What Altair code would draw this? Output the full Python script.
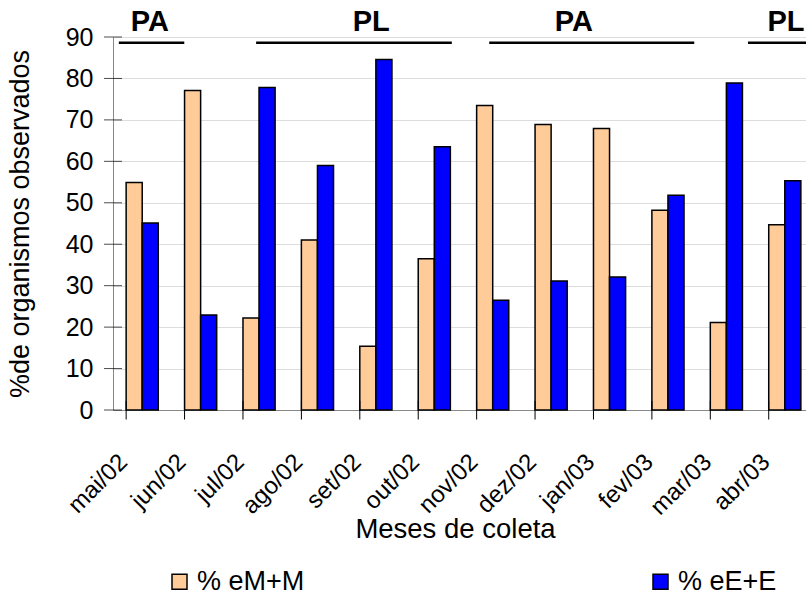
import altair as alt
import pandas as pd

months = ["mai/02", "jun/02", "jul/02", "ago/02", "set/02", "out/02",
          "nov/02", "dez/02", "jan/03", "fev/03", "mar/03", "abr/03"]
em_m = [54.9, 77.1, 22.2, 41.0, 15.4, 36.5, 73.5, 68.9, 67.9, 48.2, 21.1, 44.7]
ee_e = [45.1, 22.9, 77.8, 59.0, 84.6, 63.5, 26.5, 31.1, 32.1, 51.8, 78.9, 55.3]
series = ["% eM+M", "% eE+E"]
colors = ["#FFCC99", "#0000FF"]

periods = ["PA", "PL", "PA", "PL"]
period_start = [0.10, 2.45, 6.44, 10.87]
period_end = [1.22, 5.80, 9.95, 12.0]
period_center = [0.63, 4.42, 7.89, 11.52]

y_ticks = [0, 10, 20, 30, 40, 50, 60, 70, 80, 90]

FONT = "Liberation Sans"
W = 693
W_RANGE = 701
H = 373

df = pd.DataFrame({
    "month": months * 2,
    "series": [series[0]] * len(months) + [series[1]] * len(months),
    "value": em_m + ee_e,
})
df_months = pd.DataFrame({"month": months})
df_yt = pd.DataFrame({"value": y_ticks})
df_per = pd.DataFrame({"label": periods, "x1": period_start, "x2": period_end, "xc": period_center})

xscale = alt.Scale(domain=months, range=[0, W_RANGE], paddingInner=0.45, paddingOuter=0.225)
yscale = alt.Scale(domain=[0, 90], nice=False, zero=True)
qx = alt.Scale(domain=[0, 12], range=[0, W_RANGE])

bars = alt.Chart(df).mark_bar(stroke="black", strokeWidth=1.5).encode(
    x=alt.X("month:N", sort=months, scale=xscale, title="Meses de coleta",
            axis=alt.Axis(ticks=False, labelAngle=-45,
                          labelAlign="right", labelBaseline="middle",
                          labelPadding=48, labelOffset=-18.5,
                          labelFontSize=24, titleFontSize=27.5, titleFontWeight="normal",
                          titleX=342, titleY=127, titleAlign="center",
                          titleBaseline="alphabetic")),
    xOffset=alt.XOffset("series:N", sort=series, scale=alt.Scale(domain=series, paddingInner=0, paddingOuter=0)),
    y=alt.Y("value:Q", scale=yscale, title="%de organismos observados",
            axis=alt.Axis(values=y_ticks, ticks=False, labelPadding=20, labelFontSize=25,
                          titleFontSize=27, titleFontWeight="normal", titleX=-79, titleY=186.5,
                          titleAlign="center", titleBaseline="bottom")),
    color=alt.Color("series:N", sort=series,
                    scale=alt.Scale(domain=series, range=colors),
                    legend=alt.Legend(title=None, orient="none", legendX=53, legendY=531,
                                      padding=0,
                                      direction="horizontal", symbolType="square",
                                      symbolSize=225, symbolStrokeColor="black",
                                      symbolStrokeWidth=1.5, labelFontSize=27,
                                      labelFont=FONT, labelOffset=4,
                                      columnPadding=342)),
)

xticks = alt.Chart(df_months).mark_rule(color="black", strokeWidth=1).encode(
    x=alt.X("month:N", sort=months, scale=xscale, bandPosition=0, title="Meses de coleta"),
    y=alt.Y(datum=-2.3, scale=yscale),
    y2=alt.Y2(datum=2.2),
)

yticks = alt.Chart(df_yt).mark_tick(color="black", thickness=1, size=18, orient="horizontal").encode(
    y=alt.Y("value:Q", scale=yscale, title="%de organismos observados"),
    x=alt.value(0),
)

lines = alt.Chart(df_per).mark_rule(color="black", strokeWidth=2.5).encode(
    x=alt.X("x1:Q", scale=qx, axis=None),
    x2="x2:Q",
    y=alt.datum(88.6),
)

labels = alt.Chart(df_per).mark_text(fontSize=29, fontWeight="bold", font=FONT,
                                      color="black", baseline="middle", align="center").encode(
    x=alt.X("xc:Q", scale=qx, axis=None),
    y=alt.datum(93.6),
    text="label:N",
)

chart = alt.layer(
    alt.layer(bars, xticks, yticks),
    alt.layer(lines, labels),
).resolve_scale(x="independent").properties(
    width=W, height=H,
    autosize=alt.AutoSizeParams(type="none"),
    padding={"left": 113, "top": 37, "right": 0, "bottom": 185},
).configure_view(stroke=None).configure_axis(
    labelFont=FONT, titleFont=FONT, labelColor="black", titleColor="black",
    domainColor="black", domainWidth=1, grid=False,
).configure(font=FONT)

chart.save("out.html", embed_options={"renderer": "svg", "actions": False})
